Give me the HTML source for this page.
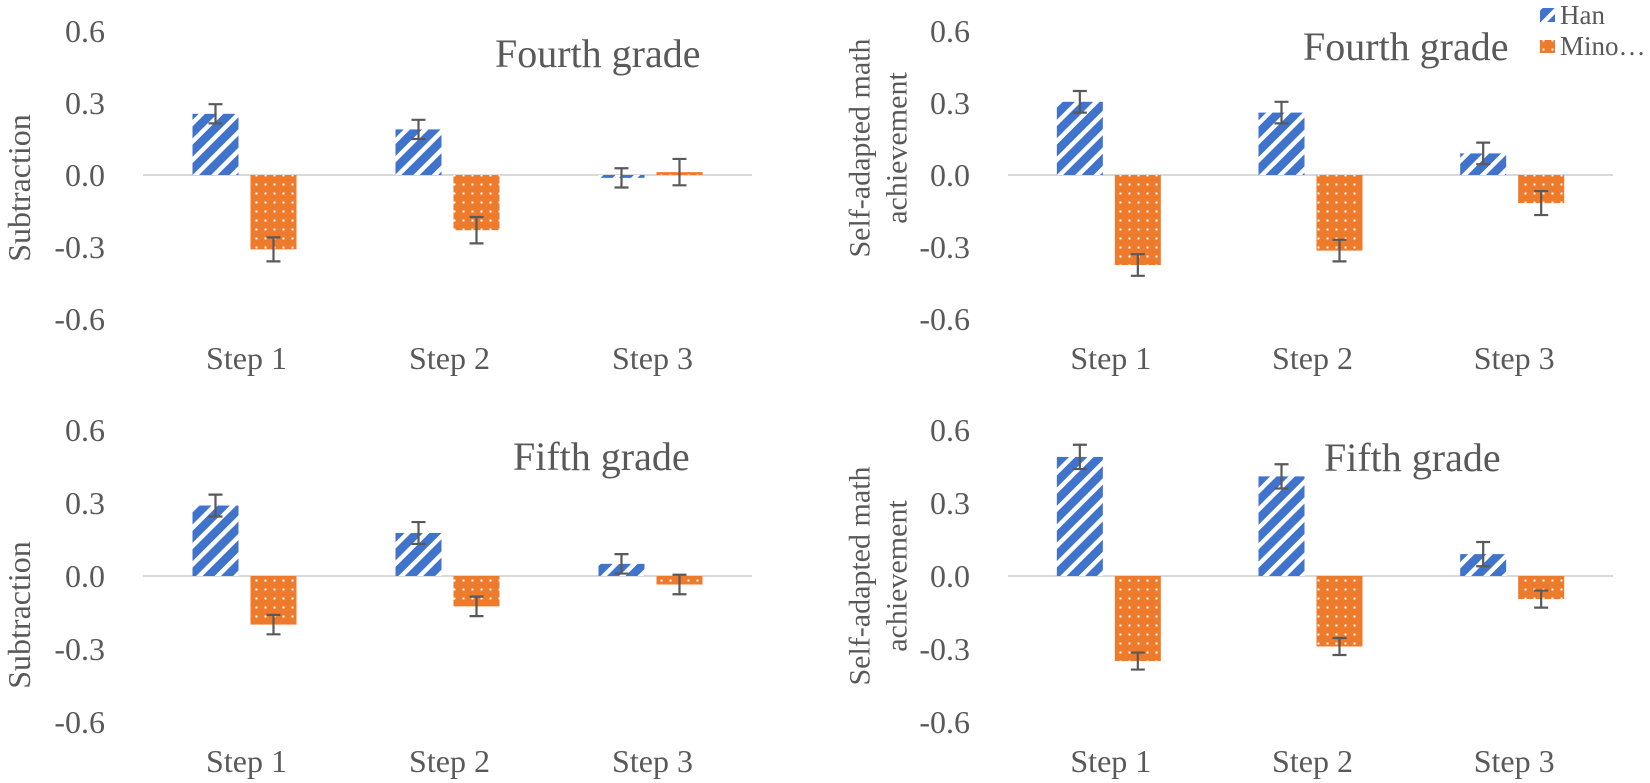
<!DOCTYPE html>
<html><head><meta charset="utf-8"><style>
html,body{margin:0;padding:0;background:#fff;}
svg{display:block;}
text{font-family:"Liberation Serif",serif;fill:#595959;}
</style></head><body>
<svg id="chart" width="1650" height="783" viewBox="0 0 1650 783" xmlns="http://www.w3.org/2000/svg">
<defs>
<pattern id="hanPat" width="13" height="13" patternUnits="userSpaceOnUse" patternTransform="rotate(45)">
<rect x="0" y="0" width="13" height="13" fill="#3f73cc"/>
<rect x="0" y="0" width="4.5" height="13" fill="#ffffff"/>
</pattern>
<pattern id="minoPat" width="9" height="9" patternUnits="userSpaceOnUse">
<rect x="0" y="0" width="9" height="9" fill="#ee7a2c"/>
<rect x="3.5" y="3.5" width="2" height="2" fill="#ffffff"/>
</pattern>
</defs>
<g id="legend">
<g>
<rect x="1540" y="8" width="15" height="14" fill="url(#hanPat)"/>
<text x="1560" y="24" font-size="27">Han</text>
</g>
<g>
<rect x="1540" y="40" width="15" height="13" fill="url(#minoPat)"/>
<text x="1560" y="55" font-size="27">Mino…</text>
</g>
</g>
</svg>
<script>
const categories = ["Step 1", "Step 2", "Step 3"];
const tickValues = [0.6, 0.3, 0.0, -0.3, -0.6];
const tickLabels = ["0.6", "0.3", "0.0", "-0.3", "-0.6"];
// Fourth grade, subtraction
const hanSub4 = [0.255, 0.19, -0.012];
const hanSub4Err = [0.04, 0.04, 0.04];
const minoSub4 = [-0.31, -0.23, 0.012];
const minoSub4Err = [0.05, 0.055, 0.055];
// Fourth grade, math achievement
const hanMath4 = [0.305, 0.26, 0.09];
const hanMath4Err = [0.045, 0.045, 0.045];
const minoMath4 = [-0.375, -0.315, -0.117];
const minoMath4Err = [0.045, 0.045, 0.05];
// Fifth grade, subtraction
const hanSub5 = [0.29, 0.177, 0.05];
const hanSub5Err = [0.045, 0.045, 0.04];
const minoSub5 = [-0.2, -0.125, -0.035];
const minoSub5Err = [0.04, 0.04, 0.04];
// Fifth grade, math achievement
const hanMath5 = [0.49, 0.41, 0.09];
const hanMath5Err = [0.05, 0.05, 0.05];
const minoMath5 = [-0.35, -0.29, -0.095];
const minoMath5Err = [0.035, 0.035, 0.035];

const NS = "http://www.w3.org/2000/svg";
const svg = document.getElementById("chart");
function mk(tag, attrs, parent){
  const e = document.createElementNS(NS, tag);
  for (const k in attrs) e.setAttribute(k, attrs[k]);
  parent.appendChild(e);
  return e;
}
function panel(p){
  const g = mk("g", {}, svg);
  
  
  const y = v => p.zero - v * p.scale;
  const band = (p.x1 - p.x0) / categories.length;
  const cx = i => p.x0 + band * (i + 0.5);
  // ticks
  tickValues.forEach((v, i) => {
    const t = mk("text", {x: p.x0 - 38, y: y(v) + 11, "font-size": 32, "text-anchor": "end"}, g);
    t.textContent = tickLabels[i];
    
    
  });
  // zero line
  const zl = mk("line", {x1: p.x0, x2: p.x1, y1: p.zero, y2: p.zero, stroke: "#d9d9d9", "stroke-width": 2}, g);
  
  
  // bars
  categories.forEach((c, i) => {
    const c0 = cx(i);
    [[p.han[i], p.hanErr[i], c0 - 52, "url(#hanPat)", "bar-han"], [p.mino[i], p.minoErr[i], c0 + 6, "url(#minoPat)", "bar-minority"]].forEach(s => {
      const v = s[0], e = s[1], bx = s[2];
      const top = Math.min(y(v), p.zero), h = Math.abs(y(v) - p.zero);
      const r = mk("rect", {x: bx, y: top, width: 46, height: Math.max(h, 1), fill: s[3]}, g);
      
      
      const ex = bx + 23, ya = y(v + e), yb = y(v - e);
      const eb = mk("path", {d: `M${ex},${ya}V${yb}M${ex-7},${ya}H${ex+7}M${ex-7},${yb}H${ex+7}`, stroke: "#595959", "stroke-width": 2.2, fill: "none"}, g);
      
      
    });
    const t = mk("text", {x: c0 + 2, y: p.stepY + 11, "font-size": 32, "text-anchor": "middle"}, g);
    t.textContent = c;
    
    
  });
  // title
  const tt = mk("text", {x: p.tx, y: p.ty, "font-size": 40}, g);
  tt.textContent = p.title;
  
  
  // y axis title
  const yt = mk("text", {transform: `translate(${p.ax},${p.ay}) rotate(-90)`, "text-anchor": "middle", "font-size": p.lines.length > 1 ? 30 : 32}, g);
  
  
  p.lines.forEach((l, k) => {
    const ts = mk("tspan", {x: 0, y: k * 37 - (p.lines.length - 1) * 18.5 + 10}, yt);
    ts.textContent = l;
  });
}
panel({name: "panel-fourth-subtraction", x0: 143, x1: 752, zero: 175, scale: 240, stepY: 358, han: hanSub4, hanErr: hanSub4Err, mino: minoSub4, minoErr: minoSub4Err, title: "Fourth grade", tx: 495, ty: 67, lines: ["Subtraction"], ax: 20, ay: 188});
panel({name: "panel-fourth-math", x0: 1008, x1: 1613, zero: 175, scale: 240, stepY: 358, han: hanMath4, hanErr: hanMath4Err, mino: minoMath4, minoErr: minoMath4Err, title: "Fourth grade", tx: 1303, ty: 60, lines: ["Self-adapted math", "achievement"], ax: 878, ay: 148});
panel({name: "panel-fifth-subtraction", x0: 143, x1: 752, zero: 576, scale: 243, stepY: 761, han: hanSub5, hanErr: hanSub5Err, mino: minoSub5, minoErr: minoSub5Err, title: "Fifth grade", tx: 513, ty: 470, lines: ["Subtraction"], ax: 20, ay: 615});
panel({name: "panel-fifth-math", x0: 1008, x1: 1613, zero: 576, scale: 243, stepY: 761, han: hanMath5, hanErr: hanMath5Err, mino: minoMath5, minoErr: minoMath5Err, title: "Fifth grade", tx: 1324, ty: 471, lines: ["Self-adapted math", "achievement"], ax: 878, ay: 576});
</script>
</body></html>
